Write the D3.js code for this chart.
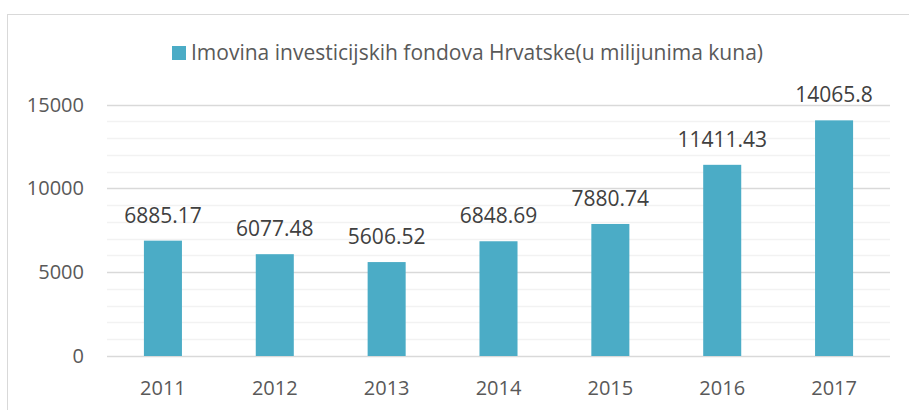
<!DOCTYPE html>
<html>
<head>
<meta charset="utf-8">
<script src="https://cdn.jsdelivr.net/npm/d3@7"></script>
<style>
  body { margin: 0; background: #fff; }
  svg { display: block; font-family: "Open Sans", sans-serif; }
</style>
</head>
<body>
<svg id="chart" width="909" height="410"></svg>
<script>
const years  = ['2011', '2012', '2013', '2014', '2015', '2016', '2017'];
const values = [6885.17, 6077.48, 5606.52, 6848.69, 7880.74, 11411.43, 14065.8];
const yTicks = [0, 5000, 10000, 15000];
const seriesName = 'Imovina investicijskih fondova Hrvatske(u milijunima kuna)';

const svg = d3.select('#chart');
const textColor = '#595959';
const barColor = '#4bacc6';

// outer chart border (cut off at right and bottom like the screenshot)
svg.append('rect')
  .attr('x', 7.5).attr('y', 14.5)
  .attr('width', 930).attr('height', 420)
  .attr('fill', 'none')
  .attr('stroke', '#d9d9d9');

const plot = { left: 107, right: 890, top: 104.7, bottom: 356 };

const x = d3.scaleBand()
  .domain(years)
  .range([plot.left, plot.right])
  .paddingInner(0.66)
  .paddingOuter(0.33);

const y = d3.scaleLinear()
  .domain([0, 15000])
  .range([plot.bottom, plot.top]);

// minor gridlines
svg.append('g')
  .selectAll('line')
  .data(d3.range(1000, 15000, 1000).filter(v => v % 5000 !== 0))
  .join('line')
  .attr('x1', plot.left).attr('x2', plot.right)
  .attr('y1', d => Math.round(y(d)) + 0.5).attr('y2', d => Math.round(y(d)) + 0.5)
  .attr('stroke', '#f2f2f2')
  .attr('stroke-width', 1.5);

// major gridlines
svg.append('g')
  .selectAll('line')
  .data(yTicks)
  .join('line')
  .attr('x1', plot.left).attr('x2', plot.right)
  .attr('y1', d => Math.round(y(d)) + 0.5).attr('y2', d => Math.round(y(d)) + 0.5)
  .attr('stroke', '#d9d9d9')
  .attr('stroke-width', 1.5);

// y axis labels
const yAxis = svg.append('g')
  .attr('transform', `translate(${84},0)`)
  .call(d3.axisLeft(y).tickValues(yTicks).tickFormat(d3.format('d')).tickSize(0).tickPadding(0));
yAxis.select('.domain').remove();
yAxis.selectAll('text')
  .attr('fill', textColor)
  .style('font-size', '20px')
  .style('font-family', '"Open Sans", sans-serif');

// x axis labels
const xAxis = svg.append('g')
  .attr('transform', `translate(0,${plot.bottom})`)
  .call(d3.axisBottom(x).tickSize(0).tickPadding(25));
xAxis.select('.domain').remove();
xAxis.selectAll('text')
  .attr('fill', textColor)
  .style('font-size', '20px')
  .style('font-family', '"Open Sans", sans-serif');

// bars
svg.append('g')
  .selectAll('rect')
  .data(values)
  .join('rect')
  .attr('x', (d, i) => x(years[i]))
  .attr('y', d => y(d))
  .attr('width', x.bandwidth())
  .attr('height', d => y(0) - y(d))
  .attr('fill', barColor);

// value labels
svg.append('g')
  .selectAll('text')
  .data(values)
  .join('text')
  .attr('x', (d, i) => x(years[i]) + x.bandwidth() / 2)
  .attr('y', d => y(d) - 18)
  .attr('text-anchor', 'middle')
  .attr('fill', '#404040')
  .style('font-size', '21px')
  .text(d => String(d));

// legend
const legend = svg.append('g').attr('transform', 'translate(172,46)');
legend.append('rect')
  .attr('width', 14).attr('height', 14)
  .attr('fill', barColor);
legend.append('text')
  .attr('x', 19).attr('y', 14)
  .attr('fill', textColor)
  .style('font-size', '21px')
  .text(seriesName);
</script>
</body>
</html>
